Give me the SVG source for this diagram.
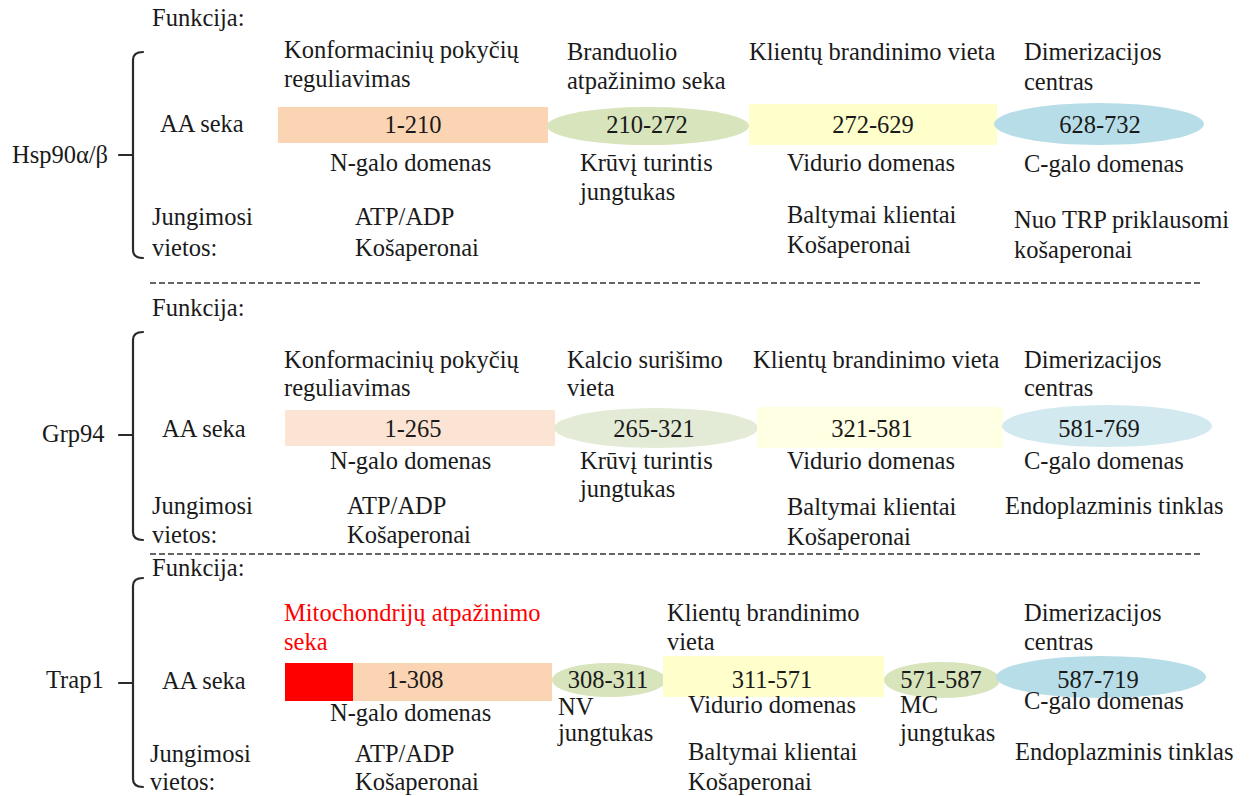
<svg xmlns="http://www.w3.org/2000/svg" width="1249" height="796" viewBox="0 0 1249 796">
<style>
text{font-family:"Liberation Serif","Times New Roman",serif;font-size:24.5px;fill:#1a1a1a}
.c{text-anchor:middle}
.red{fill:#ff0000}
.br{fill:none;stroke:#2a2a2a;stroke-width:2.2;stroke-linecap:round;stroke-linejoin:round}
.sep{stroke:#333;stroke-width:1.5;stroke-dasharray:6 3}
.pe{fill:#fbd4b4}.gr{fill:#d7e4bc}.ye{fill:#ffffcc}.bl{fill:#b7dee8}
.pe2{fill:#fce4d5}.gr2{fill:#e3ebd6}.ye2{fill:#ffffe3}.bl2{fill:#d2e9f0}
</style>
<rect width="1249" height="796" fill="#ffffff"/>

<g id="separators">
<line class="sep" x1="150" y1="283" x2="1200" y2="283"/>
<line class="sep" x1="150" y1="554" x2="1200" y2="554"/>
</g>

<g id="brackets">
<path class="br" d="M143,52 Q133,52 133,60 V250 Q133,258 143,258 M133,155 H119"/>
<path class="br" d="M143,332 Q133,332 133,340 V532 Q133,540 143,540 M133,435 H119"/>
<path class="br" d="M143,578 Q133,578 133,586 V779 Q133,787 143,787 M133,683 H119"/>
</g>

<!-- Hsp90 -->
<g id="hsp90-labels">
<text x="12" y="163">Hsp90α/β</text>
<text x="152" y="26">Funkcija:</text>
<text x="160" y="132">AA seka</text>
<text x="152" y="225">Jungimosi</text>
<text x="152" y="256">vietos:</text>
</g>
<g id="hsp90-n">
<rect class="pe" x="278" y="107" width="270" height="36"/>
<text class="c" x="413" y="133">1-210</text>
<text x="284" y="58">Konformacinių pokyčių</text>
<text x="284" y="87">reguliavimas</text>
<text x="330" y="171">N-galo domenas</text>
<text x="355" y="225">ATP/ADP</text>
<text x="355" y="256">Košaperonai</text>
</g>
<g id="hsp90-linker">
<ellipse class="gr" cx="648" cy="126" rx="101" ry="19"/>
<text class="c" x="647" y="133">210-272</text>
<text x="567" y="60">Branduolio</text>
<text x="567" y="89">atpažinimo seka</text>
<text x="580" y="171">Krūvį turintis</text>
<text x="580" y="200">jungtukas</text>
</g>
<g id="hsp90-middle">
<rect class="ye" x="749" y="104" width="248" height="41"/>
<text class="c" x="873" y="133">272-629</text>
<text x="749" y="60">Klientų brandinimo vieta</text>
<text x="787" y="171">Vidurio domenas</text>
<text x="787" y="223">Baltymai klientai</text>
<text x="787" y="253">Košaperonai</text>
</g>
<g id="hsp90-c">
<ellipse class="bl" cx="1099" cy="124" rx="105" ry="21"/>
<text class="c" x="1100" y="133">628-732</text>
<text x="1024" y="60">Dimerizacijos</text>
<text x="1024" y="90">centras</text>
<text x="1024" y="172">C-galo domenas</text>
<text x="1014" y="228">Nuo TRP priklausomi</text>
<text x="1014" y="258">košaperonai</text>
</g>

<!-- Grp94 -->
<g id="grp94-labels">
<text x="42" y="442">Grp94</text>
<text x="152" y="316">Funkcija:</text>
<text x="162" y="437">AA seka</text>
<text x="152" y="514">Jungimosi</text>
<text x="152" y="543">vietos:</text>
</g>
<g id="grp94-n">
<rect class="pe2" x="285" y="410" width="270" height="36"/>
<text class="c" x="413" y="437">1-265</text>
<text x="284" y="368">Konformacinių pokyčių</text>
<text x="284" y="396">reguliavimas</text>
<text x="330" y="469">N-galo domenas</text>
<text x="347" y="514">ATP/ADP</text>
<text x="347" y="543">Košaperonai</text>
</g>
<g id="grp94-linker">
<ellipse class="gr2" cx="656" cy="428" rx="102" ry="20"/>
<text class="c" x="654" y="437">265-321</text>
<text x="567" y="368">Kalcio surišimo</text>
<text x="567" y="396">vieta</text>
<text x="580" y="469">Krūvį turintis</text>
<text x="580" y="497">jungtukas</text>
</g>
<g id="grp94-middle">
<rect class="ye2" x="757" y="407" width="246" height="41"/>
<text class="c" x="872" y="437">321-581</text>
<text x="753" y="368">Klientų brandinimo vieta</text>
<text x="787" y="469">Vidurio domenas</text>
<text x="787" y="515">Baltymai klientai</text>
<text x="787" y="545">Košaperonai</text>
</g>
<g id="grp94-c">
<ellipse class="bl2" cx="1107" cy="426" rx="105" ry="21"/>
<text class="c" x="1099" y="437">581-769</text>
<text x="1024" y="368">Dimerizacijos</text>
<text x="1024" y="396">centras</text>
<text x="1024" y="469">C-galo domenas</text>
<text x="1005" y="514">Endoplazminis tinklas</text>
</g>

<!-- Trap1 -->
<g id="trap1-labels">
<text x="46" y="688">Trap1</text>
<text x="152" y="576">Funkcija:</text>
<text x="162" y="689">AA seka</text>
<text x="150" y="762">Jungimosi</text>
<text x="150" y="790">vietos:</text>
</g>
<g id="trap1-n">
<rect class="pe" x="353" y="663" width="199" height="38"/>
<rect x="285" y="663" width="68" height="38" fill="#ff0000"/>
<text class="c" x="415" y="688">1-308</text>
<text class="red" x="284" y="621">Mitochondrijų atpažinimo</text>
<text class="red" x="284" y="650">seka</text>
<text x="330" y="721">N-galo domenas</text>
<text x="355" y="762">ATP/ADP</text>
<text x="355" y="790">Košaperonai</text>
</g>
<g id="trap1-nv">
<ellipse class="gr" cx="609" cy="680" rx="57" ry="17"/>
<text class="c" x="608" y="688">308-311</text>
<text x="558" y="715">NV</text>
<text x="558" y="741">jungtukas</text>
</g>
<g id="trap1-middle">
<rect class="ye" x="663" y="656" width="221" height="41"/>
<text class="c" x="772" y="688">311-571</text>
<text x="667" y="621">Klientų brandinimo</text>
<text x="667" y="650">vieta</text>
<text x="688" y="713">Vidurio domenas</text>
<text x="688" y="760">Baltymai klientai</text>
<text x="688" y="790">Košaperonai</text>
</g>
<g id="trap1-mc">
<ellipse class="gr" cx="942" cy="680" rx="58" ry="18"/>
<text class="c" x="941" y="688">571-587</text>
<text x="900" y="713">MC</text>
<text x="900" y="741">jungtukas</text>
</g>
<g id="trap1-c">
<ellipse class="bl" cx="1101" cy="677" rx="105" ry="21"/>
<text class="c" x="1098" y="688">587-719</text>
<text x="1024" y="621">Dimerizacijos</text>
<text x="1024" y="650">centras</text>
<text x="1024" y="709">C-galo domenas</text>
<text x="1015" y="760">Endoplazminis tinklas</text>
</g>
</svg>
